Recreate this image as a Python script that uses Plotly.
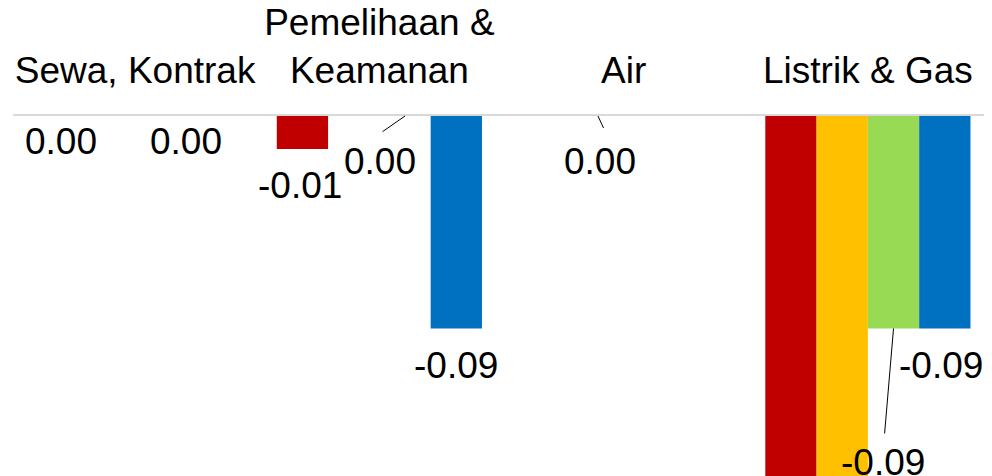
import plotly.graph_objects as go

categories = ["Sewa, Kontrak", "Pemelihaan &<br>Keamanan", "Air", "Listrik & Gas"]
series_names = ["Seri 1", "Seri 2", "Seri 3", "Seri 4"]
seri_1 = [0.0, -0.014, 0.0, -0.25]
seri_2 = [0.0, 0.0, 0.0, -0.23]
seri_3 = [0.0, 0.0, 0.0, -0.09]
seri_4 = [0.0, -0.09, 0.0, -0.09]
series_values = [seri_1, seri_2, seri_3, seri_4]
colors = ["#C00000", "#FFC000", "#99DA55", "#0070C0"]

# visible data labels: (series index, category index, dx px, dy px, leader end offset or None)
labels = [
    (0, 0, 3, 25, None),
    (2, 0, 25, 25, None),
    (0, 1, -2, 36, None),
    (2, 1, -25, 45, (-23, 16)),
    (3, 1, 0, 37, None),
    (1, 2, 2, 45, (6, 13)),
    (2, 3, -11, 134, (-9, 106)),
    (3, 3, -4, 37, None),
]

FONT = "Liberation Sans, Arial, sans-serif"
FS = 37
bargap = 0.16
n_series = len(series_values)
bar_w = (1 - bargap) / n_series

fig = go.Figure()
for name, vals, col in zip(series_names, series_values, colors):
    fig.add_trace(go.Bar(x=categories, y=vals, name=name, marker=dict(color=col, line=dict(width=0))))

annotations = []
for s, c, dx, dy, leader in labels:
    v = series_values[s][c]
    xpos = c + (s - (n_series - 1) / 2) * bar_w
    txt = f"{v:.2f}"
    if leader is not None:
        annotations.append(dict(
            x=xpos, y=v, xref="x", yref="y", text=" ", showarrow=True,
            arrowhead=0, arrowwidth=1, arrowcolor="black",
            ax=leader[0], ay=leader[1], borderpad=0,
            font=dict(family=FONT, size=1, color="black"),
        ))
    annotations.append(dict(
        x=xpos, y=v, xref="x", yref="y", text=txt, showarrow=False,
        xshift=dx, yshift=-dy, xanchor="center", yanchor="middle",
        font=dict(family=FONT, size=FS, color="black"),
    ))

# page body has an 8px default margin; margins below compensate for it
fig.update_layout(
    width=992, height=476,
    margin=dict(l=5, r=10, t=108, b=8, autoexpand=False),
    paper_bgcolor="white", plot_bgcolor="white",
    barmode="group", bargap=bargap, bargroupgap=0,
    showlegend=False,
    font=dict(family=FONT, size=FS, color="black"),
    annotations=annotations,
    xaxis=dict(side="top", showline=True, linecolor="#D9D9D9", linewidth=2,
               range=[-0.5, len(categories) - 0.5],
               showgrid=False, ticks="", tickangle=0, automargin=False,
               ticklabelstandoff=16,
               tickfont=dict(family=FONT, size=FS, color="black")),
    yaxis=dict(range=[-0.1525, 0], visible=False, showgrid=False, zeroline=False,
               automargin=False),
)

fig.write_html("out.html")
